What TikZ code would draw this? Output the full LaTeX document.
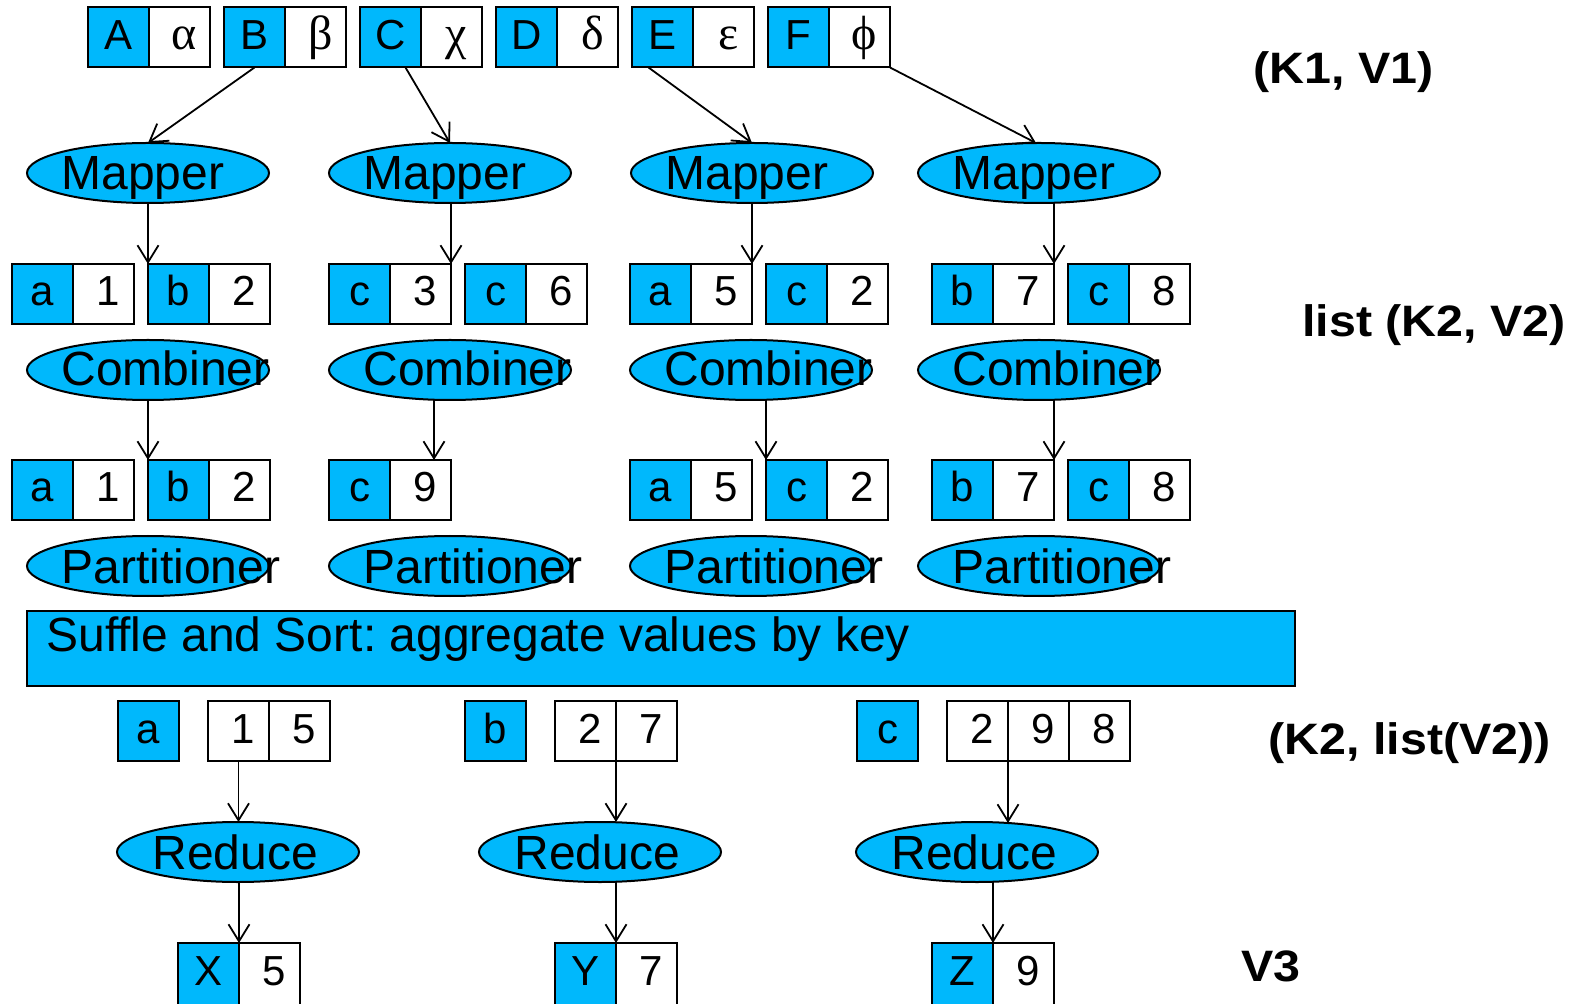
\documentclass[tikz,border=0pt]{standalone}
\usepackage{fontspec}
\setmainfont{Liberation Sans}
\newfontfamily\grk{Liberation Serif}
\newfontfamily\labf[FakeStretch=1.1]{Liberation Sans}
\usetikzlibrary{shapes.geometric,arrows.meta,calc}
\definecolor{hcyan}{RGB}{0,184,252}
\tikzset{
  cellbase/.style={draw=black, line width=1pt, minimum width=30.5pt, minimum height=30pt,
    inner sep=0pt, outer sep=0pt, text height=12pt, text depth=0pt,
    font=\fontsize{21}{21}\selectfont, anchor=north west},
  keycell/.style={cellbase, fill=hcyan},
  valcell/.style={cellbase, fill=white},
  lastrow/.style={minimum height=34pt, text height=8pt},
  proc/.style={ellipse, draw=black, line width=1pt, fill=hcyan, minimum width=121pt,
    minimum height=30pt, inner sep=0pt, outer sep=0pt},
  proctext/.style={anchor=base west, inner sep=0pt, font=\fontsize{24}{24}\selectfont},
  lab/.style={anchor=base west, inner sep=0pt, font=\labf\bfseries\fontsize{22}{22}\selectfont},
  arr/.style={-{Straight Barb[length=8.5pt,width=10.5pt]}, line width=0.9pt},
}
\newcommand{\kvp}[6][]{%
  \node[keycell,#1] (#2k) at (#3,#4) {#5};
  \node[valcell,#1] (#2v) at (#2k.north east) {\kern5pt #6};}
\newcommand{\gk}[1]{{\grk\fontsize{24}{24}\selectfont #1}}
\begin{document}
\frenchspacing
\begin{tikzpicture}[x=0.5pt,y=-0.5pt]
\useasboundingbox (0,0) rectangle (1572,1004);
\fill[white] (0,0) rectangle (1572,1004);
% top row (K1,V1)
\kvp{A}{88}{7.5}{A}{\gk{α}}
\kvp{B}{224}{7.5}{B}{\gk{β}}
\kvp{C}{360}{7.5}{C}{\gk{χ}}
\kvp{D}{496}{7.5}{D}{\gk{δ}}
\kvp{E}{632}{7.5}{E}{\gk{ε}}
\kvp{F}{768}{7.5}{F}{\gk{ϕ}}
% mappers
\node[proc] (m1) at (148,173) {};
\node[proc] (m2) at (450,173) {};
\node[proc] (m3) at (752,173) {};
\node[proc] (m4) at (1039,173) {};
\foreach \m in {m1,m2,m3,m4}
  \node[proctext] (\m t) at ($(\m.west)+(34,17)$) {Mapper};
% row 2
\kvp{r2a}{12}{264}{a}{1}
\kvp{r2b}{148}{264}{b}{2}
\kvp{r2c}{329}{264}{c}{3}
\kvp{r2d}{465}{264}{c}{6}
\kvp{r2e}{630}{264}{a}{5}
\kvp{r2f}{766}{264}{c}{2}
\kvp{r2g}{932}{264}{b}{7}
\kvp{r2h}{1068}{264}{c}{8}
% combiners
\node[proc] (c1) at (148,370) {};
\node[proc] (c2) at (450,370) {};
\node[proc] (c3) at (751,370) {};
\node[proc] (c4) at (1039,370) {};
\foreach \m in {c1,c2,c3,c4}
  \node[proctext] (\m t) at ($(\m.west)+(34,16)$) {Combiner};
% row 3
\kvp{r3a}{12}{460}{a}{1}
\kvp{r3b}{148}{460}{b}{2}
\kvp{r3c}{329}{460}{c}{9}
\kvp{r3e}{630}{460}{a}{5}
\kvp{r3f}{766}{460}{c}{2}
\kvp{r3g}{932}{460}{b}{7}
\kvp{r3h}{1068}{460}{c}{8}
% partitioners
\node[proc] (p1) at (148,566) {};
\node[proc] (p2) at (450,566) {};
\node[proc] (p3) at (751,566) {};
\node[proc] (p4) at (1039,566) {};
\foreach \m in {p1,p2,p3,p4}
  \node[proctext] (\m t) at ($(\m.west)+(34,17)$) {Partitioner};
% shuffle
\node[draw=black, fill=hcyan, line width=1pt, minimum width=634pt, minimum height=37.5pt,
  anchor=north west, inner sep=0pt, outer sep=0pt] (shuf) at (27,611) {};
\node[proctext, font=\fontsize{24}{24}\selectfont] (shuft) at ($(shuf.north west)+(19,40)$)
  {Suffle and Sort: aggregate values by key};
% row 4
\node[keycell] (ka) at (118,701) {a};
\node[valcell] (va1) at (208,701) {\kern5pt 1};
\node[valcell] (va2) at (va1.north east) {\kern5pt 5};
\node[keycell] (kb) at (465,701) {b};
\node[valcell] (vb1) at (555,701) {\kern5pt 2};
\node[valcell] (vb2) at (vb1.north east) {\kern5pt 7};
\node[keycell] (kc) at (857,701) {c};
\node[valcell] (vc1) at (947,701) {\kern5pt 2};
\node[valcell] (vc2) at (vc1.north east) {\kern5pt 9};
\node[valcell] (vc3) at (vc2.north east) {\kern5pt 8};
% reducers
\node[proc] (rd1) at (238,852) {};
\node[proc] (rd2) at (600,852) {};
\node[proc] (rd3) at (977,852) {};
\foreach \m in {rd1,rd2,rd3}
  \node[proctext] (\m t) at ($(\m.west)+(35,17)$) {Reduce};
% row 5
\kvp[lastrow]{X}{178}{943}{X}{5}
\kvp[lastrow]{Y}{555}{943}{Y}{7}
\kvp[lastrow]{Z}{932}{943}{Z}{9}
% labels
\node[lab] (l1) at (1253,84) {(K1, V1)};
\node[lab] (l2) at (1302,337) {list (K2, V2)};
\node[lab] (l3) at (1268,754) {(K2, list(V2))};
\node[lab] (l4) at (1241,981) {V3};
% arrows: inputs -> mappers
\draw[arr] (Bk.south) -- (m1.north);
\draw[arr] ($(Ck.south)+(15,0)$) -- (m2.north);
\draw[arr] ($(Ek.south)+(-14,0)$) -- (m3.north);
\draw[arr] (Fv.south east) -- ($(m4.north)+(-3,0)$);
% mappers -> row 2
\draw[arr] (m1.south -| r2bk.north west) -- (r2bk.north west);
\draw[arr] (m2.south -| r2cv.north east) -- (r2cv.north east);
\draw[arr] (m3.south -| r2ev.north east) -- (r2ev.north east);
\draw[arr] (m4.south -| r2gv.north east) -- (r2gv.north east);
% combiners -> row 3
\coordinate (c2end) at ($(r3cv.north west)+(44,0)$);
\draw[arr] (c1.south -| r3bk.north west) -- (r3bk.north west);
\draw[arr] (c2.south -| c2end) -- (c2end);
\draw[arr] (c3.south -| r3fk.north west) -- (r3fk.north west);
\draw[arr] (c4.south -| r3gv.north east) -- (r3gv.north east);
% row 4 -> reducers
\draw[arr] (va1.south) -- (va1.south |- rd1.north);
\draw[arr] (vb1.south east) -- (vb1.south east |- rd2.north);
\draw[arr] (vc1.south east) -- ($(vc1.south east |- rd3.north)+(0,1)$);
% reducers -> outputs
\draw[arr] (rd1.south -| Xk.north east) -- (Xk.north east);
\draw[arr] (rd2.south -| Yk.north east) -- (Yk.north east);
\draw[arr] (rd3.south -| Zk.north east) -- (Zk.north east);
\end{tikzpicture}
\end{document}
